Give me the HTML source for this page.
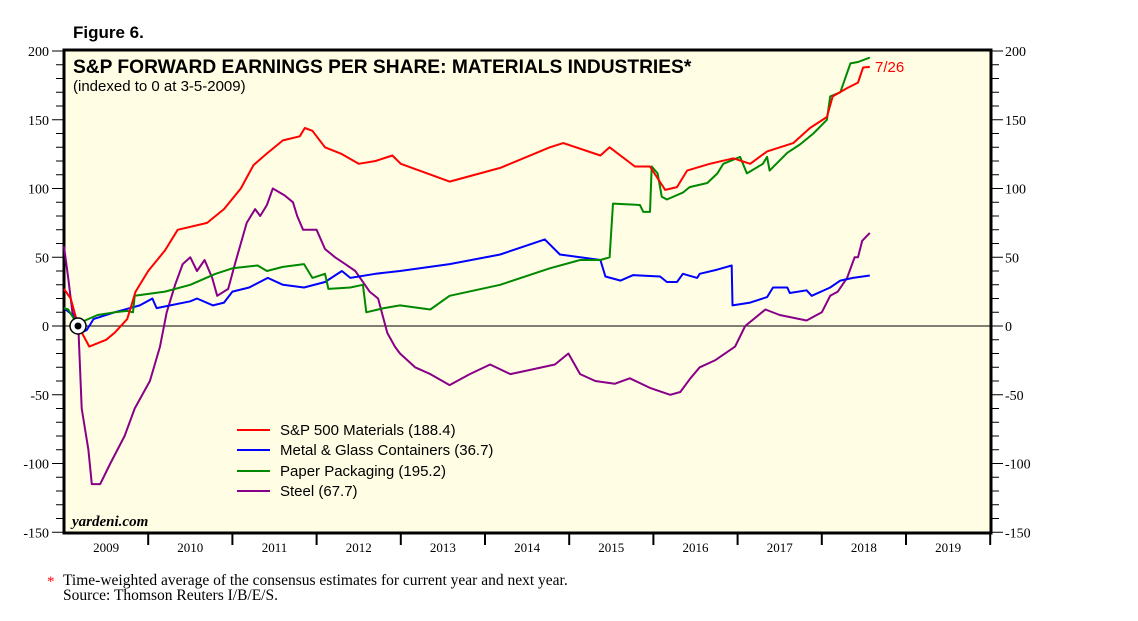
<!DOCTYPE html>
<html><head><meta charset="utf-8"><style>
body{margin:0;background:#fff;}
svg{display:block;}
text{font-family:"Liberation Sans",sans-serif;}
.ser{font-family:"Liberation Serif",serif;}
</style></head><body>
<svg id="c" width="1138" height="621" xmlns="http://www.w3.org/2000/svg">
<text x="73" y="38" font-size="17" font-weight="bold">Figure 6.</text>
<rect x="64" y="50" width="927" height="483" fill="#fffde3" stroke="#000" stroke-width="3"/>
<g id="ticks"></g>
<line x1="64" y1="326" x2="991" y2="326" stroke="#000" stroke-width="1"/>
<g id="series"></g>
<circle cx="78" cy="326" r="8" fill="#fff" stroke="#000" stroke-width="1.5"/>
<circle cx="78" cy="326" r="3.5" fill="#000"/>
<text x="73" y="73" font-size="19.2" font-weight="bold">S&amp;P FORWARD EARNINGS PER SHARE: MATERIALS INDUSTRIES*</text>
<text x="73" y="91" font-size="15">(indexed to 0 at 3-5-2009)</text>
<text x="875" y="72" font-size="15" fill="#f00">7/26</text>
<g>
<line x1="237" y1="430" x2="270" y2="430" stroke="#f00" stroke-width="2"/>
<text x="280" y="435" font-size="15">S&amp;P 500 Materials (188.4)</text>
<line x1="237" y1="450" x2="270" y2="450" stroke="#00f" stroke-width="2"/>
<text x="280" y="455" font-size="15">Metal &amp; Glass Containers (36.7)</text>
<line x1="237" y1="471" x2="270" y2="471" stroke="#080" stroke-width="2"/>
<text x="280" y="476" font-size="15">Paper Packaging (195.2)</text>
<line x1="237" y1="491" x2="270" y2="491" stroke="#808" stroke-width="2"/>
<text x="280" y="496" font-size="15">Steel (67.7)</text>
</g>
<text x="72" y="526" class="ser" font-size="15" font-weight="bold" font-style="italic">yardeni.com</text>
<text x="47" y="586" class="ser" font-size="15" fill="#f00">*</text>
<text x="63" y="585" class="ser" font-size="15.5">Time-weighted average of the consensus estimates for current year and next year.</text>
<text x="63" y="600" class="ser" font-size="15.5">Source: Thomson Reuters I/B/E/S.</text>
</svg>
<script>
const yearLabels=[2009,2010,2011,2012,2013,2014,2015,2016,2017,2018,2019];
const yTicks=[200,150,100,50,0,-50,-100,-150];
const redT=[2009.0,2009.08,2009.17,2009.3,2009.5,2009.6,2009.75,2009.85,2010.0,2010.2,2010.35,2010.7,2010.9,2011.1,2011.25,2011.4,2011.6,2011.8,2011.86,2011.95,2012.1,2012.3,2012.5,2012.7,2012.9,2013.0,2013.58,2014.18,2014.77,2014.93,2015.37,2015.48,2015.78,2015.96,2016.14,2016.28,2016.40,2016.67,2016.95,2017.15,2017.35,2017.66,2017.86,2018.06,2018.13,2018.30,2018.43,2018.49,2018.57];
const redV=[27,20,0,-15,-10,-5,5,25,40,55,70,75,85,100,117,125,135,138,144,142,130,125,118,120,124,118,105,115,130,133,124,130,116,116,99,101,113,118,122,118,127,133,144,152,167,173,177,188,188.4];
const blueT=[2009.0,2009.1,2009.2,2009.27,2009.35,2009.6,2009.9,2010.05,2010.1,2010.5,2010.58,2010.77,2010.9,2011.0,2011.2,2011.42,2011.6,2011.85,2012.1,2012.3,2012.4,2012.7,2012.99,2013.58,2014.18,2014.71,2014.89,2015.37,2015.43,2015.61,2015.76,2016.08,2016.16,2016.28,2016.35,2016.52,2016.55,2016.76,2016.93,2016.94,2017.15,2017.35,2017.42,2017.59,2017.62,2017.82,2017.88,2018.10,2018.22,2018.37,2018.57];
const blueV=[13,8,-5,-3,5,10,15,20,13,18,20,15,17,25,28,35,30,28,32,40,35,38,40,45,52,63,52,48,36,33,37,36,32,32,38,35,38,41,44,15,17,21,28,28,24,26,22,28,33,35,36.7];
const greenT=[2009.0,2009.05,2009.12,2009.17,2009.25,2009.4,2009.6,2009.75,2009.82,2009.84,2010.2,2010.5,2010.8,2011.0,2011.3,2011.41,2011.6,2011.85,2011.95,2012.1,2012.14,2012.4,2012.55,2012.59,2012.8,2012.99,2013.35,2013.58,2014.18,2014.77,2015.13,2015.37,2015.48,2015.52,2015.84,2015.88,2015.96,2015.98,2016.05,2016.10,2016.16,2016.35,2016.43,2016.64,2016.76,2016.83,2017.03,2017.11,2017.30,2017.35,2017.38,2017.59,2017.74,2017.90,2018.06,2018.10,2018.22,2018.34,2018.43,2018.57];
const greenV=[13,12,5,0,4,8,10,11,10,22,25,30,38,42,44,40,43,45,35,38,27,28,30,10,13,15,12,22,30,42,48,48,50,89,88,83,83,116,111,94,92,97,101,104,111,118,123,111,118,123,113,126,132,140,150,167,170,191,192,195.2];
const steelT=[2009.0,2009.05,2009.1,2009.17,2009.21,2009.29,2009.33,2009.43,2009.55,2009.72,2009.84,2010.02,2010.14,2010.22,2010.32,2010.41,2010.50,2010.58,2010.67,2010.76,2010.82,2010.95,2011.03,2011.17,2011.27,2011.33,2011.41,2011.48,2011.62,2011.72,2011.77,2011.84,2012.0,2012.10,2012.22,2012.34,2012.46,2012.63,2012.73,2012.84,2012.93,2012.99,2013.17,2013.35,2013.58,2013.82,2014.06,2014.30,2014.53,2014.83,2014.99,2015.13,2015.31,2015.54,2015.72,2015.96,2016.20,2016.32,2016.44,2016.55,2016.73,2016.97,2017.09,2017.33,2017.50,2017.82,2018.0,2018.10,2018.19,2018.30,2018.39,2018.43,2018.48,2018.57];
const steelV=[58,35,10,0,-60,-90,-115,-115,-100,-80,-60,-40,-15,10,30,45,50,40,48,35,22,27,45,75,85,80,88,100,95,90,80,70,70,56,50,45,40,25,20,-5,-15,-20,-30,-35,-43,-35,-28,-35,-32,-28,-20,-35,-40,-42,-38,-45,-50,-48,-38,-30,-25,-15,0,12,8,4,10,22,25,35,50,50,62,67.7];
const NS='http://www.w3.org/2000/svg';
const X0=64,YW=84.2,Y0=326,K=1.375;
function xs(t){return X0+(t-2009)*YW;}
function ys(v){return Y0-v*K;}
const tg=document.getElementById('ticks');
function mk(tag,attrs,parent){const e=document.createElementNS(NS,tag);for(const k in attrs)e.setAttribute(k,attrs[k]);parent.appendChild(e);return e;}
for(let v=-150;v<=200;v+=10){
  const major=v%50===0;
  const l1=mk('line',{x1:major?52:56,x2:64,y1:ys(v),y2:ys(v),stroke:'#000','stroke-width':1},tg);
  
  
  const l2=mk('line',{x1:991,x2:major?1003:999,y1:ys(v),y2:ys(v),stroke:'#000','stroke-width':1},tg);
  
  
}
yTicks.forEach(v=>{
  const a=mk('text',{x:49,y:ys(v)+5,'font-size':14,'text-anchor':'end',class:'ser'},tg);a.textContent=v;
  
  
  const b=mk('text',{x:1005,y:ys(v)+5,'font-size':14,class:'ser'},tg);b.textContent=v;
  
  
});
yearLabels.forEach(y=>{
  const t=mk('text',{x:xs(y+0.5),y:552,'font-size':13,'text-anchor':'middle',class:'ser'},tg);t.textContent=y;
  
  
  const l=mk('line',{x1:xs(y+1),x2:xs(y+1),y1:533,y2:545,stroke:'#000','stroke-width':2},tg);
  
  
});
const sg=document.getElementById('series');
function line(T,V,col,name){
  const d=T.map((t,i)=>(i?'L':'M')+xs(t).toFixed(1)+','+ys(V[i]).toFixed(1)).join('');
  const p=mk('path',{d:d,fill:'none',stroke:col,'stroke-width':2,'stroke-linejoin':'round'},sg);
  
  
}
line(steelT,steelV,'#808','steel-line');
line(blueT,blueV,'#00f','containers-line');
line(greenT,greenV,'#080','paper-line');
line(redT,redV,'#f00','materials-line');
</script>
</body></html>
